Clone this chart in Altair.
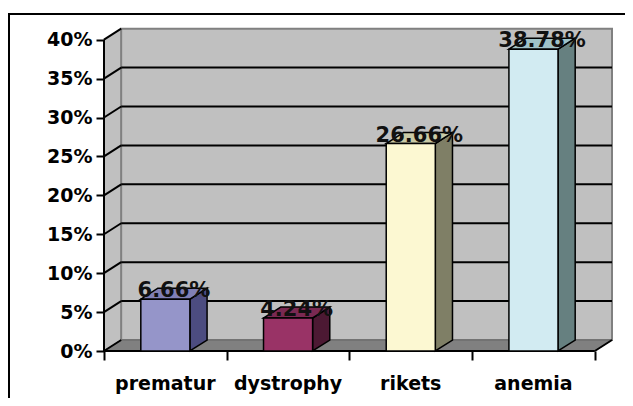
import altair as alt
import pandas as pd

# ---- data ----
categories = ["prematur", "dystrophy", "rikets", "anemia"]
values = [6.66, 4.24, 26.66, 38.78]
labels = ["6.66%", "4.24%", "26.66%", "38.78%"]
y_ticks = [0, 5, 10, 15, 20, 25, 30, 35, 40]
x_ticks = [0, 1, 2, 3, 4]

# ---- styles ----
front_colors = ["#9595C9", "#993366", "#FCF8D2", "#D2EBF2"]
side_colors = ["#4C4C80", "#4C1933", "#7F7F66", "#668080"]
top_colors = ["#8080B6", "#7A2952", "#CACAA6", "#A0C3C8"]

W, H = 508, 323
DX, DY = 0.14, 1.41          # 3-D depth offsets in data units
XMAX, YMAX = 4 + DX, 41.5
WALL_TOP = 40
BW0, BW1 = 0.3, 0.7          # bar position inside each category band

xs = alt.Scale(domain=[0, XMAX], nice=False, zero=False)
ys = alt.Scale(domain=[0, YMAX], nice=False, zero=False)

AX = alt.Axis(values=x_ticks, labels=False, domain=False, grid=False,
              ticks=True, tickSize=9, tickWidth=2, tickColor="black", title=None, zindex=2)
AY = alt.Axis(values=y_ticks, labelExpr="datum.value + '%'", domain=False,
              grid=False, tickSize=8, tickWidth=2, tickColor="black",
              labelFont="DejaVu Sans", labelFontWeight="bold", labelFontSize=19,
              labelColor="black", labelPadding=4, title=None, zindex=2)


def X(field, **kw):
    return alt.X(field, type="quantitative", scale=xs, axis=AX, title=None, **kw)


def Y(field, **kw):
    return alt.Y(field, type="quantitative", scale=ys, axis=AY, title=None, **kw)


n = len(categories)

# bars table
bars = pd.DataFrame({
    "cat": categories,
    "v": values,
    "label": labels,
    "front": front_colors,
    "i": list(range(n)),
})
bars["x0"] = bars["i"] + BW0
bars["x1"] = bars["i"] + BW1
bars["xc"] = bars["i"] + 0.5
bars["xl"] = bars["i"] + 0.5 + DX / 2
bars["zero"] = 0.0

# side and top faces (two points per bar)
side_rows, top_rows = [], []
for i, (c, v) in enumerate(zip(categories, values)):
    side_rows.append({"cat": c, "col": side_colors[i], "x": i + BW1, "y": v, "y2": 0.0})
    side_rows.append({"cat": c, "col": side_colors[i], "x": i + BW1 + DX, "y": v + DY, "y2": DY})
    top_rows.append({"cat": c, "col": top_colors[i], "y": v, "x": i + BW0, "x2": i + BW1})
    top_rows.append({"cat": c, "col": top_colors[i], "y": v + DY, "x": i + BW0 + DX, "x2": i + BW1 + DX})
side = pd.DataFrame(side_rows)
top = pd.DataFrame(top_rows)

# walls
left_wall = pd.DataFrame({"x": [0, DX], "y": [WALL_TOP, WALL_TOP + DY], "y2": [0, DY]})
floor = pd.DataFrame({"y": [0, DY], "x": [0, DX], "x2": [n, n + DX]})
back = pd.DataFrame({"x": [DX], "x2": [n + DX], "y": [DY], "y2": [WALL_TOP + DY]})
grid = pd.DataFrame({"k": y_ticks[1:-1]})
grid["yb"] = grid["k"] + DY
grid["xa"] = DX
grid["xb"] = n + DX
diag = pd.DataFrame({"k": y_ticks})
diag["x0"] = 0.0
diag["x1"] = DX
diag["y1"] = diag["k"] + DY

frame = alt.Chart(alt.Data(values=[{}])).mark_rect(
    fillOpacity=0, stroke="black", strokeWidth=2
).encode(x=alt.value(-95), x2=alt.value(W + 60), y=alt.value(-14), y2=alt.value(H + 80))

lw = alt.Chart(left_wall).mark_area(
    orient="vertical", fill="#C0C0C0", stroke="#808080", strokeWidth=1
).encode(x=X("x"), y=Y("y"), y2="y2")

fl = alt.Chart(floor).mark_area(
    orient="horizontal", fill="#808080", stroke="#666666", strokeWidth=1
).encode(y=Y("y"), x=X("x"), x2="x2")

bw = alt.Chart(back).mark_rect(
    fill="#C0C0C0", stroke="#808080", strokeWidth=2
).encode(x=X("x"), x2="x2", y=Y("y"), y2="y2")

gl = alt.Chart(grid).mark_rule(color="black", strokeWidth=2).encode(
    x=X("xa"), x2="xb", y=Y("yb"))

dg = alt.Chart(diag).mark_rule(color="black", strokeWidth=2).encode(
    x=X("x0"), x2="x1", y=Y("k"), y2="y1")

axis_line = alt.Chart(pd.DataFrame({"x": [0.0], "y": [0.0], "y2": [40.0]})).mark_rule(
    color="black", strokeWidth=2).encode(x=X("x"), y=Y("y"), y2="y2")
floor_edge = alt.Chart(pd.DataFrame({"x": [0.0], "x2": [float(n)], "y": [0.0]})).mark_rule(
    color="black", strokeWidth=2).encode(x=X("x"), x2="x2", y=Y("y"))
floor_side = alt.Chart(pd.DataFrame({"x": [float(n)], "x2": [n + DX], "y": [0.0], "y2": [DY]})).mark_rule(
    color="black", strokeWidth=2).encode(x=X("x"), x2="x2", y=Y("y"), y2="y2")

side_l = alt.Chart(side).mark_area(
    orient="vertical", stroke="black", strokeWidth=1.5, strokeJoin="miter"
).encode(x=X("x"), y=Y("y"), y2="y2",
         color=alt.Color("col:N", scale=None), detail="cat:N")

top_l = alt.Chart(top).mark_area(
    orient="horizontal", stroke="black", strokeWidth=1.5
).encode(y=Y("y"), x=X("x"), x2="x2",
         color=alt.Color("col:N", scale=None), detail="cat:N")

front_l = alt.Chart(bars).mark_rect(stroke="black", strokeWidth=1.5).encode(
    x=X("x0"), x2="x1", y=Y("zero"), y2="v",
    color=alt.Color("front:N", scale=None),
)

val_l = alt.Chart(bars).mark_text(
    font="DejaVu Sans", fontSize=21, fontWeight="bold", color="#111111",
    baseline="alphabetic", dy=-2
).encode(x=X("xl"), y=Y("v"), text="label:N")

cat_l = alt.Chart(bars).mark_text(
    font="DejaVu Sans", fontSize=19, fontWeight="bold", color="black", baseline="alphabetic"
).encode(x=X("xc"), y=alt.value(H + 39), text="cat:N")

chart = alt.layer(
    frame, lw, bw, fl, gl, dg, axis_line, floor_edge, floor_side,
    side_l, top_l, front_l, val_l, cat_l
).properties(
    width=W, height=H,
    autosize=alt.AutoSizeParams(type="none"),
    padding={"left": 96, "top": 20, "right": 13, "bottom": 47},
    background="white",
).configure_view(stroke=None)

chart.save("out.html", embed_options={"renderer": "svg", "actions": False})
